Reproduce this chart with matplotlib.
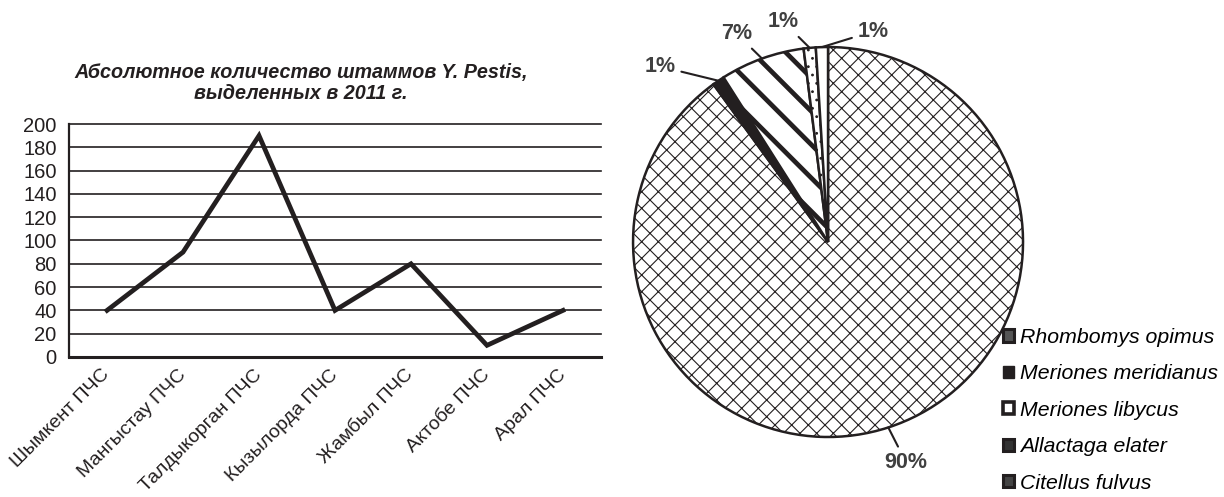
import numpy as np
import matplotlib.pyplot as plt
from matplotlib.patches import Rectangle

plt.rcParams['font.family'] = ['Liberation Sans', 'DejaVu Sans']

#
# Data
#
stations = ['Шымкент ПЧС', 'Мангыстау ПЧС', 'Талдыкорган ПЧС', 'Кызылорда ПЧС',
            'Жамбыл ПЧС', 'Актобе ПЧС', 'Арал ПЧС']
strains = [40, 90, 190, 40, 80, 10, 40]
y_ticks = list(range(0, 201, 20))
title = 'Абсолютное количество штаммов Y. Pestis,\nвыделенных в 2011 г.'

species = ['Rhombomys opimus', 'Meriones meridianus', 'Meriones libycus',
           'Allactaga elater', 'Citellus fulvus']
shares = [90, 1, 7, 1, 1]

#
# Styles
#
ink = '#231f20'
label_grey = '#404040'
pie_colors = ['white', ink, 'white', 'white', 'white']
pie_hatches = ['xx', None, '\\', '..', None]
hatch_widths = [0.8, 0.8, 3.4, 0.8, 0.8]
# legend icons look mostly dark in the original
icon_faces = ['#555555', ink, 'white', '#333333', '#444444']
icon_edges = [2.2, 1.0, 2.6, 2.2, 2.2]
# label positions in pie radius units
label_pos = [(0.40, -1.13), (-0.86, 0.90), (-0.47, 1.07), (-0.23, 1.13), (0.23, 1.08)]

fig = plt.figure(figsize=(12.24, 4.97), dpi=100)

#
# Line chart
#
ax1 = fig.add_axes([0.0564, 0.2817, 0.4346, 0.4688])
x = np.arange(len(stations))
ax1.plot(x, strains, color=ink, lw=3.4, solid_joinstyle='miter', zorder=3)
ax1.set_xlim(-0.5, len(stations) - 0.5)
ax1.set_ylim(0, 200)
ax1.set_yticks(y_ticks)
ax1.set_xticks(x)
ax1.set_xticklabels(stations, rotation=45, ha='right', va='center',
                    rotation_mode='anchor')
ax1.yaxis.grid(True, color=ink, lw=1.2)
for gl in ax1.get_ygridlines():
    gl.set_clip_on(False)
ax1.set_axisbelow(True)
for s in ['top', 'right']:
    ax1.spines[s].set_visible(False)
ax1.spines['left'].set_linewidth(1.6)
ax1.spines['bottom'].set_linewidth(2.2)
ax1.spines['left'].set_color(ink)
ax1.spines['bottom'].set_color(ink)
ax1.tick_params(axis='y', length=0, labelsize=14.5, pad=9, labelcolor=ink)
ax1.tick_params(axis='x', length=0, labelsize=14, pad=11, labelcolor=ink)

fig.text(301 / 1224, 1 - 83 / 497, title, ha='center', va='center',
         fontsize=14.2, fontweight='bold', style='italic', color=ink,
         linespacing=1.15)

#
# Pie chart
#
ax2 = fig.add_axes([0.5172, 0.1207, 0.3186, 0.7847])
wedges, _ = ax2.pie(shares, startangle=90, counterclock=False, colors=pie_colors,
                    wedgeprops=dict(edgecolor=ink, linewidth=1.8))
for w, h, hw in zip(wedges, pie_hatches, hatch_widths):
    if h:
        w.set_hatch(h)
    if hasattr(w, 'set_hatch_linewidth'):
        w.set_hatch_linewidth(hw)
ax2.set_xlim(-1, 1)
ax2.set_ylim(-1, 1)
ax2.set_aspect('equal')
ax2.axis('off')

for w, v, (tx, ty) in zip(wedges, shares, label_pos):
    mid = np.deg2rad((w.theta1 + w.theta2) / 2)
    ax2.annotate(f'{v}%', xy=(np.cos(mid), np.sin(mid)), xytext=(tx, ty),
                 ha='center', va='center', fontsize=15.5, fontweight='bold',
                 color=label_grey, annotation_clip=False,
                 arrowprops=dict(arrowstyle='-', color=ink, lw=1.5,
                                 shrinkA=2, shrinkB=0))

icons = [Rectangle((0, 0), 1, 1, facecolor=fc, edgecolor=ink, linewidth=lw)
         for fc, lw in zip(icon_faces, icon_edges)]
fig.legend(icons, species, loc='upper left', bbox_to_anchor=(0.8195, 0.340),
           frameon=False, prop=dict(style='italic', size=15.3),
           handlelength=0.5, handleheight=0.5, handletextpad=0.3,
           labelspacing=0.82, borderpad=0, borderaxespad=0)

fig.savefig('out.png', dpi=100)
